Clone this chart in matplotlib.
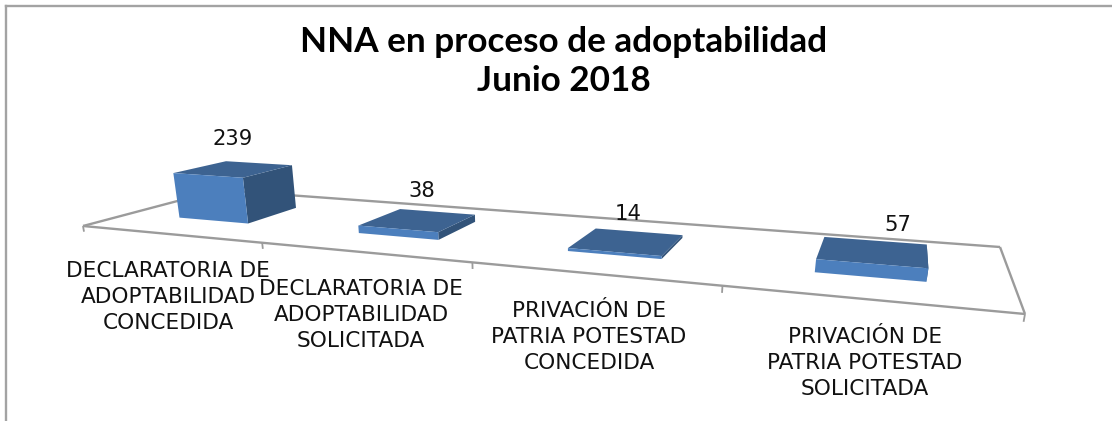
import numpy as np
import matplotlib
matplotlib.use('Agg')
import matplotlib.pyplot as plt
from matplotlib.lines import Line2D
from mpl_toolkits.mplot3d.art3d import Line3DCollection

# Chart data
categories = ['DECLARATORIA DE\nADOPTABILIDAD\nCONCEDIDA',
              'DECLARATORIA DE\nADOPTABILIDAD\nSOLICITADA',
              'PRIVACIÓN DE\nPATRIA POTESTAD\nCONCEDIDA',
              'PRIVACIÓN DE\nPATRIA POTESTAD\nSOLICITADA']
values = [239, 38, 14, 57]
title = 'NNA en proceso de adoptabilidad\nJunio 2018'

# Layout, in pixels of the 1112x421 image
W, H = 1112, 421
floor_px = [(83, 226), (1025, 314), (1000, 247), (219, 190)]  # front-left, front-right, back-right, back-left
value_px = [(233, 139), (422, 191), (628, 214), (898, 225)]
label_px = [(168, 297), (361, 315), (589, 337), (865, 363)]
bar_width = 0.4
bar_start = 0.3
depth_start = 0.31
depth = 0.4

front_color = '#4c7fbd'
top_color = '#3d6391'
side_color = '#325379'
line_color = '#9b9b9b'
clear = (0, 0, 0, 0)


def floor_homography(px):
    # maps floor coordinates (category, depth) to image pixels
    src = [(0, 0), (4, 0), (4, 1), (0, 1)]
    A, b = [], []
    for (x, y), (u, v) in zip(src, px):
        A.append([x, y, 1, 0, 0, 0, -u * x, -u * y])
        A.append([0, 0, 0, x, y, 1, -v * x, -v * y])
        b += [u, v]
    return np.append(np.linalg.solve(np.array(A, float), np.array(b, float)), 1).reshape(3, 3)


h = floor_homography(floor_px)

# Verticals converge on a point far below the picture
k = -7.1e-5
vp_x, vp_y = 550, 2900
M = np.array([[h[0, 0], h[0, 1], k * vp_x, h[0, 2]],
              [h[1, 0], h[1, 1], k * vp_y, h[1, 2]],
              [0, 1, -3e-4, 0],
              [h[2, 0], h[2, 1], k, h[2, 2]]])

fig = plt.figure(figsize=(W / 100, H / 100), dpi=100)
# 3D axes stay square, so let it run off the top of the figure
ax = fig.add_axes([0, 0, 1, W / H], projection='3d')
ax.computed_zorder = False
ax.set_axis_off()
ax.get_proj = lambda: M

# Floor outline and ticks
corners = [(0, 0, 0), (4, 0, 0), (4, 1, 0), (0, 1, 0)]
edges = [[corners[i], corners[(i + 1) % 4]] for i in range(4)]
ticks = [[(i, 0, 0), (i, 0, -30)] for i in range(5)]
ax.add_collection3d(Line3DCollection(edges, colors=line_color, linewidths=1.7, zorder=1))
ax.add_collection3d(Line3DCollection(ticks, colors=line_color, linewidths=1.3, zorder=1))

# Bars, only the three faces that can be seen are painted
face_colors = []
for v in values:
    face_colors += [clear, top_color, front_color, clear, clear, side_color]
ax.bar3d(np.arange(4) + bar_start, [depth_start] * 4, [0] * 4,
         bar_width, depth, values, color=face_colors, shade=False, zorder=2,
         linewidth=0)

ax.viewLim.intervalx = (0, W)
ax.viewLim.intervaly = (H, H - W)

fig.text(564 / W, 1 - 61.5 / H, title, ha='center', va='center', fontsize=25.3,
         fontweight='bold', family='Lato', color='black', linespacing=1.26)
for v, (x, y) in zip(values, value_px):
    fig.text(x / W, 1 - y / H, str(v), ha='center', va='center', fontsize=15.2,
             family='DejaVu Sans', color='#111111')
for c, (x, y) in zip(categories, label_px):
    fig.text(x / W, 1 - y / H, c, ha='center', va='center', fontsize=15.6,
             family='DejaVu Sans', color='#111111', linespacing=1.37)

# Chart frame, only top and left are inside the picture
fig.add_artist(Line2D([6 / W, 6 / W], [0, 1 - 6 / H], color='#a3a3a3', lw=1.7))
fig.add_artist(Line2D([6 / W, 1], [1 - 6 / H, 1 - 6 / H], color='#a3a3a3', lw=1.7))

fig.savefig('out.png', dpi=100)
